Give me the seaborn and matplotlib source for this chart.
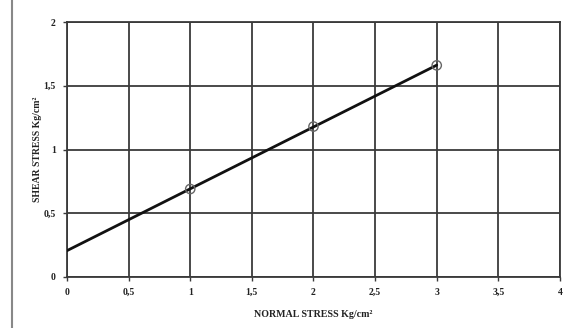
import numpy as np
import pandas as pd
import matplotlib
matplotlib.use("Agg")
import matplotlib.pyplot as plt
from matplotlib.lines import Line2D
import seaborn as sns

# Measured points
normal_stress = [1, 2, 3]
shear_stress = [0.69, 1.18, 1.66]

# Axis ticks
x_ticks = [0, 0.5, 1, 1.5, 2, 2.5, 3, 3.5, 4]
y_ticks = [0, 0.5, 1, 1.5, 2]
x_tick_labels = ["0", "0,5", "1", "1,5", "2", "2,5", "3", "3,5", "4"]
y_tick_labels = ["0", "0,5", "1", "1,5", "2"]

# Fit range for the failure envelope
fit_range = [0, 3]

sns.set_theme(style="white")
plt.rcParams["font.family"] = ["Liberation Serif", "DejaVu Serif"]

fig = plt.figure(figsize=(5.71, 3.28), dpi=100)
ax = fig.add_axes([0.1173, 0.1555, 0.8634, 0.7774])

df = pd.DataFrame({"sigma": normal_stress, "tau": shear_stress})

# Least-squares straight line through the points
slope, intercept = np.polyfit(df["sigma"], df["tau"], 1)
fit_df = pd.DataFrame({"sigma": fit_range})
fit_df["tau"] = intercept + slope * fit_df["sigma"]

sns.lineplot(data=fit_df, x="sigma", y="tau", ax=ax, color="#111111",
             linewidth=2.0, zorder=3)
sns.scatterplot(data=df, x="sigma", y="tau", ax=ax, s=45,
                facecolors="none", edgecolor="#666666", linewidth=1.0,
                zorder=4)

ax.set_xlim(0, 4)
ax.set_ylim(0, 2)
ax.set_xticks(x_ticks)
ax.set_yticks(y_ticks)
ax.set_xticklabels(x_tick_labels)
ax.set_yticklabels(y_tick_labels)

ax.grid(True, color="#3a3a3a", linewidth=1.3)
ax.set_axisbelow(True)
for sp in ax.spines.values():
    sp.set_color("#3a3a3a")
    sp.set_linewidth(1.3)

ax.tick_params(axis="both", which="major", direction="out", length=3,
               width=1.0, color="#3a3a3a", labelsize=7, pad=5,
               labelcolor="#222222", bottom=True, left=True)
for lbl in ax.get_xticklabels() + ax.get_yticklabels():
    lbl.set_fontweight("bold")

ax.set_xlabel("NORMAL STRESS Kg/cm²", fontsize=7.2, fontweight="bold",
              color="#222222", labelpad=9)
ax.set_ylabel("SHEAR STRESS Kg/cm²", fontsize=7, fontweight="bold",
              color="#222222", labelpad=1)

# Page frame line on the left
fig.add_artist(Line2D([12 / 571, 12 / 571], [0, 1], transform=fig.transFigure,
                      color="#888888", linewidth=1.5))

fig.savefig("out.png", dpi=100)
